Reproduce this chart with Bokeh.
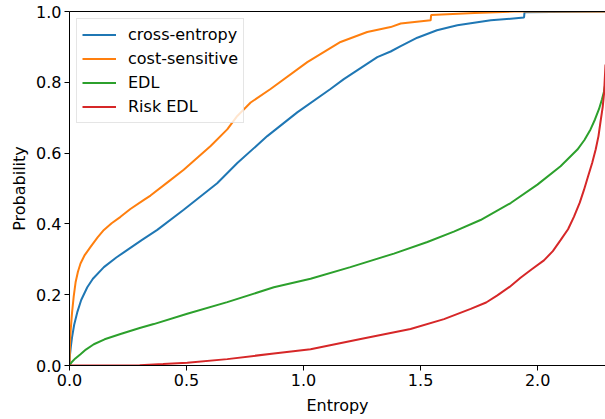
from bokeh.plotting import figure
from bokeh.models import LinearAxis, FixedTicker, Legend, LegendItem, Range1d, CustomJSTickFormatter
from bokeh.embed import file_html
from bokeh.resources import INLINE

# ---- data ----
ce_x = [0, 0.002, 0.006, 0.011, 0.02, 0.033, 0.05, 0.076, 0.1, 0.147, 0.2, 0.246, 0.31,
        0.375, 0.488, 0.631, 0.717, 0.845, 0.973, 1.115, 1.172, 1.315, 1.372, 1.415,
        1.486, 1.57, 1.657, 1.80, 1.942, 1.944, 2.29]
ce_y = [0, 0.03, 0.055, 0.08, 0.115, 0.15, 0.185, 0.221, 0.245, 0.278, 0.305, 0.326,
        0.355, 0.383, 0.44, 0.515, 0.572, 0.648, 0.715, 0.781, 0.809, 0.871, 0.887, 0.902,
        0.926, 0.947, 0.961, 0.975, 0.983, 0.998, 1.0]

cs_x = [0, 0.002, 0.005, 0.011, 0.018, 0.026, 0.036, 0.047, 0.065, 0.09, 0.12, 0.147,
        0.18, 0.218, 0.26, 0.318, 0.346, 0.42, 0.488, 0.603, 0.674, 0.717, 0.774, 0.859,
        1.016, 1.158, 1.272, 1.372, 1.415, 1.543, 1.545, 1.73, 1.9, 2.29]
cs_y = [0, 0.06, 0.1, 0.15, 0.195, 0.235, 0.265, 0.288, 0.312, 0.335, 0.362, 0.383,
        0.402, 0.42, 0.442, 0.468, 0.48, 0.518, 0.553, 0.62, 0.667, 0.705, 0.743, 0.781,
        0.857, 0.914, 0.942, 0.956, 0.966, 0.975, 0.99, 0.996, 1.0, 1.0]

edl_x = [0, 0.01, 0.025, 0.047, 0.07, 0.104, 0.15, 0.218, 0.3, 0.36, 0.503, 0.674, 0.873,
         1.03, 1.20, 1.386, 1.529, 1.642, 1.756, 1.885, 1.999, 2.098, 2.17, 2.20, 2.226,
         2.245, 2.262, 2.275, 2.284, 2.29]
edl_y = [0, 0.01, 0.02, 0.032, 0.045, 0.06, 0.074, 0.089, 0.106, 0.117, 0.146, 0.179,
         0.221, 0.245, 0.278, 0.316, 0.349, 0.378, 0.411, 0.459, 0.511, 0.563, 0.61,
         0.637, 0.667, 0.695, 0.724, 0.752, 0.775, 0.80]

risk_x = [0, 0.2, 0.3, 0.4, 0.503, 0.674, 0.873, 1.03, 1.244, 1.457, 1.60, 1.714, 1.78,
          1.828, 1.88, 1.927, 1.975, 2.027, 2.065, 2.098, 2.13, 2.155, 2.18, 2.198, 2.215,
          2.233, 2.248, 2.26, 2.269, 2.278, 2.284, 2.29]
risk_y = [0, 0.0, 0.001, 0.004, 0.008, 0.018, 0.034, 0.046, 0.075, 0.103, 0.131, 0.16,
          0.178, 0.198, 0.222, 0.248, 0.272, 0.297, 0.323, 0.354, 0.385, 0.42, 0.46,
          0.496, 0.533, 0.572, 0.61, 0.648, 0.69, 0.73, 0.77, 0.85]

names = ["cross-entropy", "cost-sensitive", "EDL", "Risk EDL"]
colors = ["#1f77b4", "#ff7f0e", "#2ca02c", "#d62728"]
x_ticks = [0.0, 0.5, 1.0, 1.5, 2.0]
y_ticks = [0.0, 0.2, 0.4, 0.6, 0.8, 1.0]

FONT = "DejaVu Sans"
FS = "16px"

p = figure(width=605, height=418, output_backend="svg", toolbar_location=None,
           x_range=Range1d(0, 2.29), y_range=Range1d(0, 1.0),
           min_border_left=69, min_border_right=0, min_border_top=11, min_border_bottom=53)
p.outline_line_color = None
p.xgrid.visible = False
p.ygrid.visible = False
p.background_fill_color = "white"
p.border_fill_color = "white"

fmt = CustomJSTickFormatter(code="return tick.toFixed(1);")
for ax, ticks, label in [(p.xaxis[0], x_ticks, "Entropy"), (p.yaxis[0], y_ticks, "Probability")]:
    ax.ticker = FixedTicker(ticks=ticks)
    ax.formatter = fmt
    ax.axis_label = label
    ax.axis_label_text_font = FONT
    ax.axis_label_text_font_size = FS
    ax.axis_label_text_font_style = "normal"
    ax.major_label_text_font = FONT
    ax.major_label_text_font_size = FS
    ax.major_label_text_color = "black"
    ax.axis_label_text_color = "black"
    ax.major_tick_out = 5
    ax.major_tick_in = 0
    ax.minor_tick_line_color = None
    ax.axis_line_color = "black"
    ax.major_tick_line_color = "black"
    ax.axis_line_width = 1
p.xaxis[0].axis_label_standoff = 7
p.yaxis[0].axis_label_standoff = 4
p.yaxis[0].major_label_standoff = 3
p.xaxis[0].major_label_standoff = 3

top = LinearAxis(ticker=FixedTicker(ticks=[]), major_tick_line_color=None,
                 minor_tick_line_color=None, major_label_text_font_size="0px",
                 axis_line_color="black", axis_line_width=1)
p.add_layout(top, "above")

items = []
for xs, ys, name, c in [(ce_x, ce_y, names[0], colors[0]), (cs_x, cs_y, names[1], colors[1]),
                        (edl_x, edl_y, names[2], colors[2]), (risk_x, risk_y, names[3], colors[3])]:
    r = p.line(xs, ys, line_color=c, line_width=2)
    items.append(LegendItem(label=name, renderers=[r]))

legend = Legend(items=items, location="top_left", margin=7, padding=5, spacing=3,
                label_height=21, glyph_height=21, glyph_width=34, label_standoff=12,
                label_text_font=FONT, label_text_font_size=FS, label_text_color="black",
                border_line_color="#cccccc", border_line_width=1,
                background_fill_color="white", background_fill_alpha=0.8)
p.add_layout(legend, "center")

open("out.html", "w").write(file_html(p, INLINE))
